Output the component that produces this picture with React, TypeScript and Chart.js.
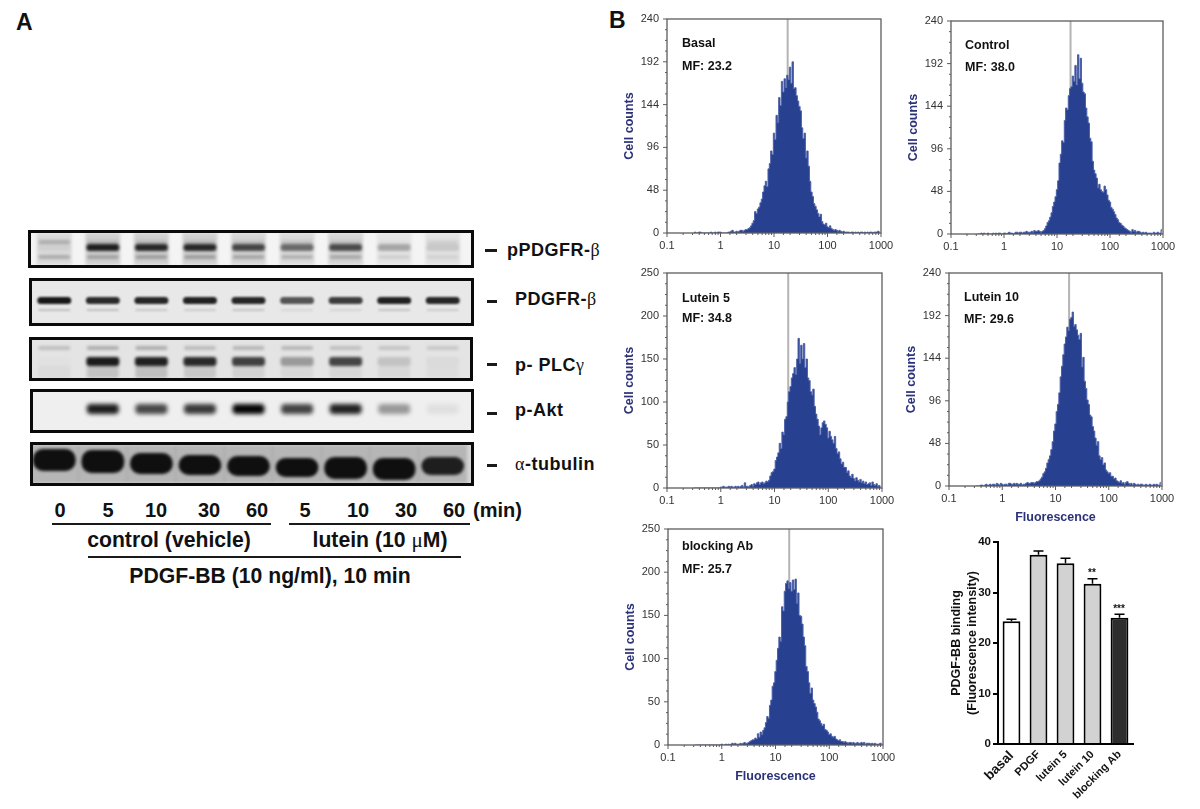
import React, { useEffect, useRef } from "react";
import { Chart, registerables } from "chart.js";

Chart.register(...registerables);
Chart.defaults.font.family = "'Liberation Sans', Arial, sans-serif";

// ---------- Histogram data: counts per 1/40-decade channel, first channel at log10(F) = -0.5 ----------
const basalCounts = [
  0,1,0,0,1,1,0,0,0,0, 0,0,0,1,0,0,1,0,1,1, 1,0,0,0,0,0,1,1,2,3, 1,1,2,1,2,3,3,2,3,4,
  4,5,6,8,11,14,24,22,27,29, 34,38,46,53,58,52,72,78,92,88, 112,105,132,124,152,143,170,158,173,163,
  177,172,186,168,192,162,163,154,148,142, 137,118,106,112,84,92,75,58,46,41, 33,30,26,22,18,21,13,10,9,11,
  7,6,8,5,4,3,4,3,2,3, 2,1,2,1,1,1,1,0,1,1, 0,1,0,1,0,1,1,0,1,0, 1,0,1,1,0,1,1,1,2,1,
];
const controlCounts = [
  0,0,0,1,0,1,0,0,1,0, 0,0,1,0,1,0,1,1,0,0, 1,1,0,1,2,1,1,0,1,2, 2,1,2,2,1,2,2,3,2,2,
  2,3,2,4,3,3,4,3,2,3, 4,6,9,13,15,19,24,31,36,42, 50,60,80,90,105,103,128,142,140,156,
  164,166,178,172,190,168,202,175,198,170, 160,158,142,132,125,108,104,82,72,68, 63,52,56,50,48,47,54,50,44,38,
  36,30,28,25,22,18,16,13,12,10, 9,7,6,5,4,3,2,5,3,4, 2,3,3,2,1,2,1,2,1,1, 1,1,0,2,1,1,2,1,1,5,
];
const lutein5Counts = [
  0,0,0,0,0,0,0,0,0,0, 0,0,0,0,0,0,0,0,0,0, 1,1,2,1,1,1,2,1,2,1, 1,2,1,2,1,2,3,1,6,2,
  2,1,3,4,2,5,4,6,7,4, 6,7,5,6,8,7,9,14,18,19, 22,32,36,41,52,46,65,62,80,83,
  100,112,118,128,133,140,132,150,174,145, 166,150,168,140,150,128,125,112,108,115, 95,86,80,72,62,70,76,78,74,70,
  58,66,60,56,52,60,46,40,42,34, 28,30,24,24,18,20,14,12,16,11, 8,12,9,7,10,6,8,5,7,4, 5,6,3,7,4,3,5,2,3,1,
];
const lutein10Counts = [
  0,0,0,0,1,1,0,1,2,1, 1,2,1,2,2,1,3,2,1,3, 2,1,2,2,1,3,3,2,2,3, 2,3,2,2,3,1,2,2,3,4,
  3,3,4,4,3,4,5,5,6,8, 10,14,16,20,26,30,34,41,50,62, 70,84,92,105,123,135,148,160,168,179,
  175,188,190,196,180,182,176,170,165,172, 134,145,118,110,97,92,80,78,67,62, 54,46,50,34,30,32,24,26,18,16,
  14,15,11,11,8,9,6,5,4,6, 3,4,2,4,5,3,2,3,1,3, 2,1,2,1,2,2,1,1,2,1, 1,2,1,1,2,1,2,1,1,4,
];
const blockingCounts = [
  0,0,0,0,0,0,0,0,0,0, 0,0,0,0,0,0,0,0,0,0, 1,0,0,1,0,1,0,1,2,1, 2,1,1,1,2,1,2,3,2,2,
  3,4,5,6,6,8,7,13,9,15, 12,17,20,26,33,31,46,52,68,72, 85,98,112,125,120,160,155,178,187,190,
  181,188,178,191,180,192,164,176,150,149, 140,125,115,91,85,72,60,66,52,48, 44,38,30,28,25,22,24,18,17,15,
  12,13,10,9,10,7,6,5,6,4, 4,3,4,3,2,3,3,2,3,2, 2,3,2,2,3,2,3,1,2,2, 2,1,2,1,2,1,1,1,2,2,
];
const gateValue = 18;
const decadeLabels = [0.1, 1, 10, 100, 1000];

// ---------- Bar chart data ----------
const barCategories = ["basal", "PDGF", "lutein 5", "lutein 10", "blocking Ab"];
const barMeans = [24.3, 37.5, 35.8, 31.75, 25];
const barUpper = [24.7, 38.2, 36.8, 32.7, 25.7];

// ---------- Blot data: intensity (0-1) per lane ----------
const lanes = ["0", "5", "10", "30", "60", "5", "10", "30", "60"];
const pPdgfrSmear = [0.1, 0.14, 0.14, 0.14, 0.12, 0.1, 0.12, 0.06, 0.07];
const pPdgfrUpper = [0.22, 0.12, 0.12, 0.12, 0.1, 0.1, 0.1, 0.02, 0.08];
const pPdgfrMain = [0.05, 0.86, 0.82, 0.82, 0.68, 0.52, 0.66, 0.28, 0.12];
const pPdgfrLower = [0.22, 0.24, 0.26, 0.26, 0.24, 0.2, 0.22, 0.1, 0.08];
const pdgfrMain = [0.9, 0.82, 0.84, 0.86, 0.84, 0.64, 0.74, 0.86, 0.84];
const pdgfrLower = [0.18, 0.18, 0.14, 0.13, 0.16, 0.08, 0.09, 0.16, 0.13];
const plcUpper = [0.16, 0.24, 0.24, 0.18, 0.2, 0.2, 0.16, 0.14, 0.12];
const plcMain = [0.01, 0.88, 0.86, 0.82, 0.72, 0.32, 0.7, 0.14, 0.04];
const plcSmear = [0.04, 0.14, 0.16, 0.12, 0.08, 0.05, 0.06, 0.05, 0.03];
const aktMain = [0, 0.88, 0.7, 0.76, 0.98, 0.72, 0.86, 0.36, 0.06];
const tubulinTop = [4, 5, 8, 10, 11, 13, 12, 13, 12];
const tubulinBottom = [26, 28, 29, 30, 31, 32, 34, 35, 30];
const tubulinInk = [0.92, 0.92, 0.92, 0.92, 0.92, 0.92, 0.92, 0.92, 0.84];
const tubulinHalo = [0.14, 0.14, 0.14, 0.14, 0.14, 0.14, 0.14, 0.14, 0.14];
const blotLabels = ["pPDGFR-", "PDGFR-", "p- PLC", "p-Akt", "-tubulin"];

const INK = "#27408f";
const FONT = "'Liberation Sans', Arial, sans-serif";

const histFrame = {
  id: "histFrame",
  afterDraw(chart: any) {
    const { ctx, chartArea: a, scales } = chart;
    ctx.save();
    ctx.strokeStyle = "#5c5c5c";
    ctx.lineWidth = 1.3;
    ctx.strokeRect(a.left, a.top, a.right - a.left, a.bottom - a.top);
    ctx.lineWidth = 1;
    ctx.beginPath();
    scales.x.ticks.forEach((t: any) => {
      const p = scales.x.getPixelForValue(t.value);
      ctx.moveTo(p, a.bottom);
      ctx.lineTo(p, a.bottom + (t.major ? 4 : 2));
    });
    const step = scales.y.ticks[1].value - scales.y.ticks[0].value;
    scales.y.ticks.forEach((t: any, i: number) => {
      const p = scales.y.getPixelForValue(t.value);
      ctx.moveTo(a.left - 4, p);
      ctx.lineTo(a.left, p);
      if (i < scales.y.ticks.length - 1) {
        for (let k = 1; k < 4; k++) {
          const q = scales.y.getPixelForValue(t.value + (step * k) / 4);
          ctx.moveTo(a.left - 2, q);
          ctx.lineTo(a.left, q);
        }
      }
    });
    ctx.stroke();
    ctx.restore();
  },
};

const errorBars = {
  id: "errorBars",
  afterDatasetsDraw(chart: any) {
    const { ctx, scales } = chart;
    ctx.save();
    ctx.strokeStyle = "#000";
    ctx.lineWidth = 1.5;
    barUpper.forEach((u, i) => {
      const x = scales.x.getPixelForValue(i);
      const y0 = scales.y.getPixelForValue(barMeans[i]);
      const y1 = scales.y.getPixelForValue(u);
      ctx.beginPath();
      ctx.moveTo(x, y0);
      ctx.lineTo(x, y1);
      ctx.moveTo(x - 5, y1);
      ctx.lineTo(x + 5, y1);
      ctx.stroke();
    });
    ctx.restore();
  },
};

function Hist({ counts, left, top, w, h, yMax, yStep, xTitle }: any) {
  const ref = useRef<HTMLCanvasElement>(null);
  const L = 45, R = 20, T = 16, B = 39;
  useEffect(() => {
    const points = counts.map((y: number, i: number) => ({ x: Math.pow(10, -0.5 + 0.025 * i), y }));
    const chart = new Chart(ref.current!, {
      type: "scatter",
      data: {
        datasets: [
          {
            data: points, showLine: true, stepped: "middle", fill: "origin",
            backgroundColor: INK, borderColor: "#4c60a8", borderWidth: 1, pointRadius: 0, order: 1,
          },
          {
            data: [{ x: gateValue, y: 0 }, { x: gateValue, y: yMax }], showLine: true,
            borderColor: "#b4b4b4", borderWidth: 2, pointRadius: 0, order: 2,
          },
        ],
      } as any,
      plugins: [histFrame],
      options: {
        animation: false, responsive: false,
        layout: { padding: { top: T, right: R } },
        plugins: { legend: { display: false }, tooltip: { enabled: false } },
        scales: {
          x: {
            type: "logarithmic", min: 0.1, max: 1000,
            afterFit: (s: any) => { s.height = B; },
            grid: { display: false, drawTicks: false }, border: { display: false },
            title: xTitle
              ? { display: true, text: xTitle, color: "#2c3278", font: { size: 12.5, weight: "bold" }, padding: 0 }
              : { display: false },
            ticks: {
              autoSkip: false, maxRotation: 0, minRotation: 0, padding: 6, color: "#333", font: { size: 11 },
              callback: (v: any) => (decadeLabels.some((d) => Math.abs(d - v) < 1e-6) ? String(v) : ""),
            },
          },
          y: {
            min: 0, max: yMax,
            afterFit: (s: any) => { s.width = L; },
            grid: { display: false, drawTicks: false }, border: { display: false },
            title: { display: true, text: "Cell counts", color: "#2c3278", font: { size: 12.5, weight: "bold" }, padding: 0 },
            ticks: { stepSize: yStep, padding: 8, color: "#333", font: { size: 11 } },
          },
        },
      } as any,
    });
    return () => chart.destroy();
  }, []);
  return (
    <canvas ref={ref} width={L + w + R} height={T + h + B}
      style={{ position: "absolute", left: left - L, top: top - T, width: L + w + R, height: T + h + B }} />
  );
}

function Bars() {
  const ref = useRef<HTMLCanvasElement>(null);
  useEffect(() => {
    const chart = new Chart(ref.current!, {
      type: "bar",
      data: {
        labels: barCategories,
        datasets: [{
          data: barMeans,
          backgroundColor: ["#ffffff", "#d2d2d2", "#d2d2d2", "#d2d2d2", "#2e2e2e"],
          borderColor: "#000", borderWidth: 2, barPercentage: 0.66, categoryPercentage: 1,
        }],
      },
      plugins: [errorBars],
      options: {
        animation: false, responsive: false,
        layout: { padding: { top: 12, right: 2 } },
        plugins: { legend: { display: false }, tooltip: { enabled: false } },
        scales: {
          x: {
            afterFit: (s: any) => { s.height = 61; },
            grid: { display: false, drawTicks: false }, border: { color: "#000", width: 2 },
            ticks: {
              autoSkip: false, minRotation: 45, maxRotation: 45, padding: 4, color: "#111",
              font: (c: any) => ({ size: c.index === 0 ? 13.5 : 11, weight: "bold" }),
            },
          },
          y: {
            min: 0, max: 40,
            afterFit: (s: any) => { s.width = 49; },
            grid: { drawOnChartArea: false, color: "#000", lineWidth: 2, tickLength: 5 },
            border: { color: "#000", width: 2 },
            title: {
              display: true, text: ["PDGF-BB binding", "(Fluorescence intensity)"], color: "#111",
              font: { size: 12.5, weight: "bold", lineHeight: 1.28 }, padding: 0,
            },
            ticks: { stepSize: 10, padding: 2, color: "#111", font: { size: 11.5, weight: "bold" } },
          },
        },
      } as any,
    });
    return () => chart.destroy();
  }, []);
  return (
    <canvas ref={ref} width={186} height={275}
      style={{ position: "absolute", left: 949, top: 530, width: 186, height: 275 }} />
  );
}

// A blot row: one horizontal run of bands, drawn as floating bars
function row(top: number | number[], bottom: number | number[], ink: number[], share: number, radius: number) {
  return {
    data: ink.map((_, i) => [
      Array.isArray(top) ? top[i] : top,
      Array.isArray(bottom) ? bottom[i] : bottom,
    ]),
    backgroundColor: ink.map((v) => `rgba(0,0,0,${v})`),
    barPercentage: share, categoryPercentage: 1, borderRadius: radius, borderSkipped: false, grouped: false,
  };
}

function Blot({ left, top, w, h, bg, blur, rows }: any) {
  const ref = useRef<HTMLCanvasElement>(null);
  const innerH = h - 6;
  useEffect(() => {
    const chart = new Chart(ref.current!, {
      type: "bar",
      data: { labels: lanes, datasets: rows },
      options: {
        animation: false, responsive: false,
        plugins: { legend: { display: false }, tooltip: { enabled: false } },
        scales: {
          x: { display: false, offset: true },
          y: { display: false, min: 0, max: innerH, reverse: true },
        },
      } as any,
    });
    return () => chart.destroy();
  }, []);
  return (
    <div style={{
      position: "absolute", left, top, width: w, height: h, boxSizing: "border-box",
      border: "3px solid #0a0a0a", background: bg, overflow: "hidden",
    }}>
      <canvas ref={ref} width={437} height={innerH}
        style={{ position: "absolute", left: 30 - left - 3, top: 0, width: 437, height: innerH, filter: `blur(${blur}px)` }} />
    </div>
  );
}

function Txt({ x, y, size, children, center, spacing }: any) {
  return (
    <span style={{
      position: "absolute", left: x, top: y, transform: center ? "translate(-50%,-50%)" : "translateY(-50%)",
      fontFamily: FONT, fontWeight: "bold", fontSize: size, color: "#111", whiteSpace: "nowrap", lineHeight: 1,
      letterSpacing: spacing || 0,
    }}>{children}</span>
  );
}
const Greek = ({ c }: any) => (
  <span style={{ fontFamily: "'Liberation Serif','DejaVu Serif',serif", fontWeight: "normal" }}>{c}</span>
);
const Rule = ({ x1, x2, y, t = 2 }: any) => (
  <div style={{ position: "absolute", left: x1, top: y, width: x2 - x1, height: t, background: "#1a1a1a" }} />
);

export default function App() {
  const laneX = [60, 108, 156, 209, 257, 305, 358, 406, 454];
  return (
    <div style={{ position: "absolute", left: 0, top: 0, width: 1200, height: 809, background: "#fff", overflow: "hidden" }}>
      <Txt x={16} y={22} size={23}>A</Txt>
      <Txt x={609} y={20} size={23}>B</Txt>

      <Blot left={28} top={230} w={446} h={38} bg="#f4f4f4" blur={1.5} rows={[
        row(11, 18, pPdgfrMain, 0.68, 3),
        row(7, 11, pPdgfrUpper, 0.66, 2),
        row(22, 26, pPdgfrLower, 0.66, 2),
        row(0, 32, pPdgfrSmear, 0.72, 0),
      ]} />
      <Blot left={29} top={278} w={445} h={48} bg="#e8e8e8" blur={1.3} rows={[
        row(16, 23, pdgfrMain, 0.7, 4),
        row(28, 30, pdgfrLower, 0.66, 1),
      ]} />
      <Blot left={29} top={337} w={444} h={44} bg="#e4e4e4" blur={1.5} rows={[
        row(17, 26, plcMain, 0.68, 3),
        row(6, 10, plcUpper, 0.66, 2),
        row(26, 38, plcSmear, 0.66, 2),
      ]} />
      <Blot left={30} top={389} w={444} h={44} bg="#efefef" blur={2} rows={[
        row(12, 22, aktMain, 0.66, 4),
      ]} />
      <Blot left={30} top={442} w={444} h={44} bg="#d4d4d4" blur={1.6} rows={[
        row(tubulinTop, tubulinBottom, tubulinInk, 0.88, 10),
        row(0, 38, tubulinHalo, 1, 0),
      ]} />

      <Rule x1={485} x2={497} y={249} t={3} />
      <Rule x1={487} x2={497} y={300} t={3} />
      <Rule x1={487} x2={497} y={363} t={3} />
      <Rule x1={487} x2={497} y={412} t={3} />
      <Rule x1={487} x2={497} y={464} t={3} />
      <Txt x={507} y={250} size={18} spacing={0.5}>{blotLabels[0]}<Greek c="β" /></Txt>
      <Txt x={515} y={299} size={18} spacing={0.5}>{blotLabels[1]}<Greek c="β" /></Txt>
      <Txt x={515} y={365} size={18} spacing={0.5}>{blotLabels[2]}<Greek c="γ" /></Txt>
      <Txt x={515} y={410} size={18} spacing={0.5}>{blotLabels[3]}</Txt>
      <Txt x={515} y={464} size={18} spacing={0.5}><Greek c="α" />{blotLabels[4]}</Txt>

      {lanes.map((t, i) => <Txt key={i} x={laneX[i]} y={510} size={20} center>{t}</Txt>)}
      <Txt x={473} y={510} size={20}>(min)</Txt>
      <Rule x1={52} x2={271} y={523} />
      <Rule x1={289} x2={470} y={523} />
      <Txt x={169} y={540} size={21.2} center>control (vehicle)</Txt>
      <Txt x={380} y={540} size={21.2} center>lutein (10 <Greek c="μ" />M)</Txt>
      <Rule x1={88} x2={461} y={556} />
      <Txt x={270} y={576} size={21.2} center>PDGF-BB (10 ng/ml), 10 min</Txt>

      <Hist counts={basalCounts} left={667} top={19} w={214} h={214} yMax={240} yStep={48} />
      <Hist counts={controlCounts} left={951} top={21} w={212} h={213} yMax={240} yStep={48} />
      <Hist counts={lutein5Counts} left={667} top={273} w={215} h={215} yMax={250} yStep={50} />
      <Hist counts={lutein10Counts} left={949} top={273} w={213} h={213} yMax={240} yStep={48} xTitle="Fluorescence" />
      <Hist counts={blockingCounts} left={668} top={529} w={215} h={216} yMax={250} yStep={50} xTitle="Fluorescence" />
      <Bars />

      <Txt x={682} y={43} size={12.5}>Basal</Txt>
      <Txt x={682} y={66} size={12.5}>MF: 23.2</Txt>
      <Txt x={965} y={45} size={12.5}>Control</Txt>
      <Txt x={965} y={67} size={12.5}>MF: 38.0</Txt>
      <Txt x={682} y={298} size={12.5}>Lutein 5</Txt>
      <Txt x={682} y={318} size={12.5}>MF: 34.8</Txt>
      <Txt x={964} y={297} size={12.5}>Lutein 10</Txt>
      <Txt x={964} y={319} size={12.5}>MF: 29.6</Txt>
      <Txt x={682} y={546} size={12.5}>blocking Ab</Txt>
      <Txt x={682} y={569} size={12.5}>MF: 25.7</Txt>
      <Txt x={1092} y={573} size={10} center>**</Txt>
      <Txt x={1119} y={609} size={10} center>***</Txt>
    </div>
  );
}
